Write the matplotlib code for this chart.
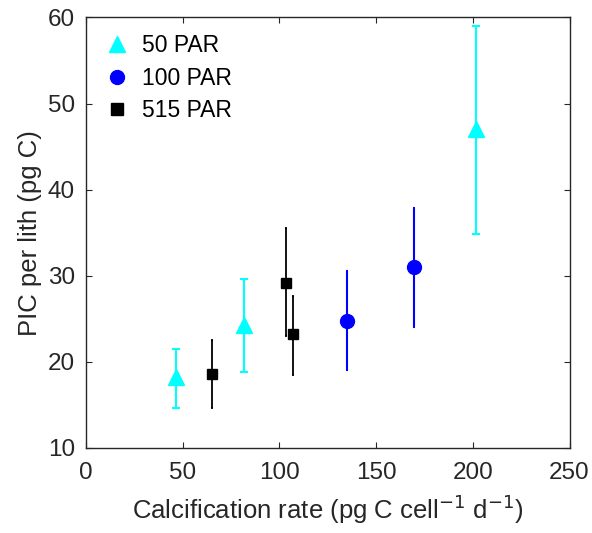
import matplotlib
matplotlib.use("Agg")
import matplotlib.pyplot as plt
from matplotlib.lines import Line2D

plt.rcParams['font.family'] = ['Liberation Sans', 'DejaVu Sans']

# 50 PAR
x50 = [46.4, 81.7, 201.8]
y50 = [18.3, 24.3, 47.0]
lo50 = [14.6, 18.8, 34.9]
hi50 = [21.5, 29.6, 59.0]
# 100 PAR
x100 = [135.0, 169.8]
y100 = [24.8, 31.0]
lo100 = [19.1, 24.0]
hi100 = [30.5, 37.9]
# 515 PAR
x515 = [65.0, 103.6, 106.9]
y515 = [18.6, 29.15, 23.2]
lo515 = [14.6, 23.0, 18.5]
hi515 = [22.5, 35.5, 27.7]

labels = ['50 PAR', '100 PAR', '515 PAR']
xticks = [0, 50, 100, 150, 200, 250]
yticks = [10, 20, 30, 40, 50, 60]

fig = plt.figure(figsize=(5.92, 5.33), dpi=100)
ax = fig.add_axes([0.1453, 0.1595, 0.8167, 0.8077])

def err(y, lo, hi):
    return [[a - b for a, b in zip(y, lo)], [b - a for a, b in zip(y, hi)]]

c50, c100, c515 = '#00FFFF', '#0000FF', 'black'
ax.errorbar(x50, y50, yerr=err(y50, lo50, hi50), fmt='^', color=c50,
            markersize=12, elinewidth=1.5, capsize=3, capthick=1.5)
ax.errorbar(x100, y100, yerr=err(y100, lo100, hi100), fmt='o', color=c100,
            markersize=10, elinewidth=1.5, capsize=1, capthick=1.5)
ax.errorbar(x515, y515, yerr=err(y515, lo515, hi515), fmt='s', color=c515,
            markersize=7.5, elinewidth=1.3, capsize=1, capthick=1.3)

ax.set_xlim(0, 250)
ax.set_ylim(10, 60)
ax.set_xticks(xticks)
ax.set_yticks(yticks)
ax.tick_params(direction='in', top=True, right=True, labelsize=17.5, colors='#262626',
               length=4)
ax.tick_params(axis='x', pad=10)
ax.tick_params(axis='y', pad=8)
for s in ax.spines.values():
    s.set_color('#262626')
    s.set_linewidth(1)
ax.set_xlabel('Calcification rate (pg C cell$^{-1}$ d$^{-1}$)', fontsize=18.5,
              color='#262626', labelpad=6)
ax.set_ylabel('PIC per lith (pg C)', fontsize=18.5, color='#262626', labelpad=4)

handles = [
    Line2D([], [], marker='^', color=c50, linestyle='none', markersize=12),
    Line2D([], [], marker='o', color=c100, linestyle='none', markersize=10),
    Line2D([], [], marker='s', color=c515, linestyle='none', markersize=8),
]
ax.legend(handles, labels, loc='upper left', bbox_to_anchor=(0.0207, 0.9823),
          frameon=False, fontsize=16.5, handlelength=1.0, handletextpad=0.59,
          borderpad=0.4, borderaxespad=0.0, labelspacing=0.41)

fig.savefig('out.png', dpi=100)
